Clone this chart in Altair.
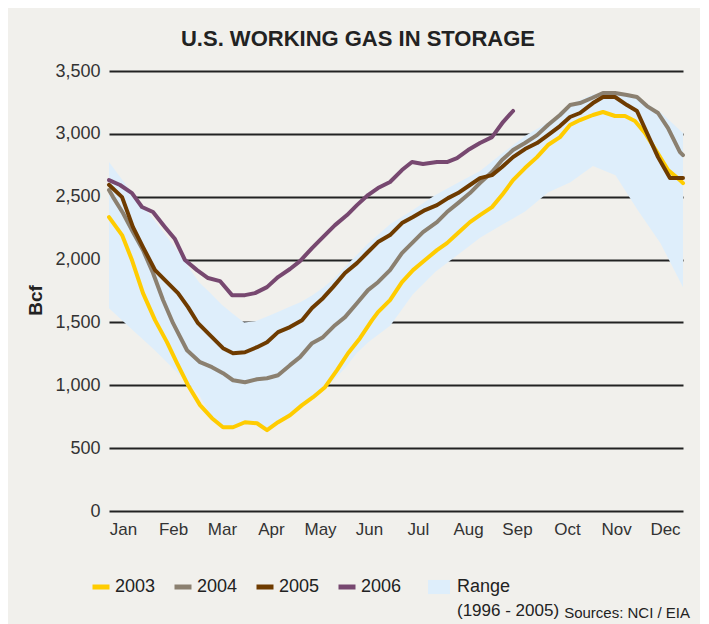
import altair as alt
import pandas as pd

FONT = "Liberation Sans, Arial, sans-serif"

years = ["2003", "2004", "2005", "2006"]
colors = ["#ffcc00", "#8b8070", "#6e3b00", "#774870"]

w2003 = [1.0, 2.16, 3.04, 4.02, 5.09, 6.15, 7.04, 8.02, 9.09, 10.15, 11.13, 12.02, 13.08, 14.15,
         15.04, 16.02, 17.08, 18.15, 19.13, 20.19, 21.26, 22.24, 23.30, 24.37, 24.90, 25.97, 27.03,
         28.01, 29.08, 30.14, 31.03, 32.01, 33.07, 33.96, 35.03, 35.92, 36.90, 37.96, 39.03, 40.00,
         41.07, 41.96, 42.85, 44.00, 44.89, 45.96, 46.85, 47.73, 48.62, 49.69, 50.67, 51.73, 52.0]
v2003 = [2338, 2195, 1996, 1733, 1518, 1343, 1176, 1001, 842, 738, 666, 666, 706, 698,
         643, 706, 762, 842, 905, 985, 1120, 1255, 1375, 1518, 1582, 1677, 1820,
         1916, 1996, 2075, 2131, 2211, 2298, 2354, 2417, 2513, 2632, 2728, 2815, 2911,
         2974, 3070, 3110, 3150, 3174, 3142, 3142, 3102, 3007, 2855, 2712, 2632, 2608]

w2004 = [1.0, 1.36, 2.24, 3.13, 4.02, 4.91, 5.80, 6.69, 7.93, 9.09, 10.15, 11.13, 12.02, 13.08,
         14.15, 15.04, 16.02, 17.08, 17.97, 19.04, 20.01, 21.08, 21.97, 23.03, 24.01, 24.90, 25.97,
         27.03, 28.01, 28.90, 30.14, 31.03, 32.01, 33.07, 33.96, 35.03, 35.92, 36.90, 37.96, 39.03,
         40.00, 41.07, 41.96, 42.85, 43.91, 44.89, 45.96, 47.02, 47.91, 48.80, 49.78, 50.67, 51.73, 52.0]
v2004 = [2553, 2497, 2370, 2219, 2076, 1893, 1678, 1494, 1279, 1184, 1144, 1096, 1040, 1024,
         1048, 1056, 1080, 1160, 1224, 1335, 1383, 1478, 1542, 1653, 1757, 1820, 1916,
         2051, 2139, 2219, 2298, 2378, 2449, 2529, 2609, 2696, 2792, 2871, 2927, 2990,
         3070, 3150, 3229, 3245, 3285, 3325, 3325, 3309, 3293, 3221, 3166, 3046, 2855, 2831]

w2005 = [1.0, 2.16, 3.13, 4.02, 5.09, 6.15, 7.13, 8.02, 8.91, 9.97, 11.13, 12.02, 13.08, 14.15,
         15.04, 16.02, 17.08, 18.15, 19.04, 20.01, 20.90, 21.97, 23.03, 23.92, 24.90, 25.97, 27.03,
         28.01, 29.08, 30.14, 31.12, 32.01, 33.07, 33.96, 35.03, 35.92, 36.90, 37.96, 39.03, 40.00,
         41.07, 41.96, 42.85, 44.00, 44.89, 45.96, 47.02, 47.91, 48.80, 49.78, 50.84, 52.0]
v2005 = [2595, 2497, 2258, 2099, 1916, 1820, 1733, 1622, 1494, 1399, 1295, 1255, 1263, 1303,
         1343, 1423, 1463, 1518, 1614, 1693, 1781, 1893, 1972, 2052, 2139, 2195, 2290,
         2338, 2394, 2433, 2489, 2529, 2593, 2648, 2672, 2736, 2815, 2879, 2927, 2990,
         3062, 3134, 3166, 3245, 3293, 3293, 3229, 3182, 3007, 2815, 2648, 2648]

w2006 = [1.0, 1.98, 3.04, 3.93, 4.91, 5.98, 6.86, 7.75, 8.82, 9.80, 10.86, 11.93, 13.08, 13.97,
         15.04, 16.02, 17.08, 17.97, 19.04, 20.01, 21.08, 22.15, 23.03, 24.01, 24.90, 25.97, 27.03,
         27.92, 28.90, 30.14, 31.03, 31.92, 32.90, 33.96, 35.03, 36.01, 36.90]
v2006 = [2632, 2593, 2529, 2418, 2378, 2258, 2163, 1996, 1916, 1853, 1829, 1717, 1717, 1733,
         1781, 1861, 1925, 1988, 2091, 2179, 2274, 2354, 2433, 2513, 2569, 2617, 2712,
         2776, 2760, 2776, 2776, 2807, 2871, 2927, 2974, 3094, 3182]

band_w = [1, 3, 5, 7, 9, 10, 11, 12, 13, 14, 15, 16, 17, 18, 19, 20, 21, 22, 23, 24,
          26, 28, 30, 32, 34, 36, 38, 40, 42, 44, 46, 48, 50, 52]
band_hi = [2776, 2536, 2316, 2080, 1820, 1735, 1643, 1570, 1500, 1510, 1545, 1582, 1622, 1660,
           1712, 1773, 1850, 1945, 2035, 2125, 2283, 2395, 2513, 2612, 2707, 2850, 2984, 3090,
           3236, 3313, 3332, 3288, 3172, 3007]
band_lo = [1612, 1447, 1284, 1108, 925, 765, 660, 650, 687, 682, 630, 689, 740, 814,
           882, 966, 1046, 1140, 1255, 1340, 1475, 1725, 1903, 2038, 2175, 2280, 2385, 2533,
           2615, 2745, 2670, 2390, 2130, 1780]

month_names = ["Jan", "Feb", "Mar", "Apr", "May", "Jun", "Jul", "Aug", "Sep", "Oct", "Nov", "Dec"]
month_pos = [2.24, 6.69, 11.04, 15.39, 19.75, 24.10, 28.45, 32.90, 37.25, 41.69, 46.05, 50.40]
y_ticks = [0, 500, 1000, 1500, 2000, 2500, 3000, 3500]

series = {"2003": (w2003, v2003), "2004": (w2004, v2004),
          "2005": (w2005, v2005), "2006": (w2006, v2006)}
rows = []
for i, yr in enumerate(years):
    ws, vs = series[yr]
    for w, v in zip(ws, vs):
        rows.append({"week": w, "bcf": v, "year": yr, "order": i})
lines_df = pd.DataFrame(rows)

band_df = pd.DataFrame({"week": band_w, "lo": band_lo, "hi": band_hi, "label": "Range"})
notes_df = pd.DataFrame({"t": ["(1996 - 2005)", "Sources: NCI / EIA"]})

names_js = "[" + ",".join(f"'{m}'" for m in month_names) + "]"
pos_js = "[" + ",".join(str(p) for p in month_pos) + "]"

x_enc = alt.X("week:Q", scale=alt.Scale(domain=[1, 52], nice=False, zero=False),
              axis=alt.Axis(values=month_pos, title=None, grid=False,
                            labelExpr=f"{names_js}[indexof({pos_js}, datum.value)]",
                            labelPadding=10, labelFontSize=17, labelColor="#333"))

band = alt.Chart(band_df).mark_area(opacity=1).encode(
    x=x_enc,
    y=alt.Y("lo:Q", scale=alt.Scale(domain=[0, 3500], nice=False),
            axis=alt.Axis(values=y_ticks, format=",.0f", title="Bcf", grid=True,
                          gridColor="#222", gridWidth=2, labelPadding=9,
                          labelFontSize=18, labelColor="#333",
                          titleFontSize=19, titleFontWeight="bold", titleColor="#222",
                          titleAngle=-90, titleX=-64, titleY=229,
                          titleAlign="center", titleBaseline="bottom")),
    y2="hi:Q",
    fill=alt.Fill("label:N", scale=alt.Scale(domain=["Range"], range=["#deeefb"]),
                  legend=alt.Legend(title=None, orient="none", legendX=319, legendY=505,
                                    symbolType="M-1,-0.64H1V0.64H-1Z", symbolSize=484,
                                    symbolFillColor="#deeefb", symbolStrokeWidth=0,
                                    symbolOpacity=1,
                                    labelFontSize=18, labelColor="#222", labelOffset=7,
                                    labelFont=FONT)),
)

lines = alt.Chart(lines_df).mark_line(strokeWidth=4, strokeJoin="round", strokeCap="round").encode(
    x="week:Q",
    y="bcf:Q",
    stroke=alt.Stroke("year:N", scale=alt.Scale(domain=years, range=colors),
                      legend=alt.Legend(title=None, orient="none", legendX=-19, legendY=505,
                                        direction="horizontal", symbolType="stroke",
                                        symbolSize=289, symbolStrokeWidth=5,
                                        labelFontSize=18, labelColor="#222", labelOffset=3,
                                        columnPadding=8, labelFont=FONT)),
    detail="year:N",
    order="order:Q",
)

notes = alt.Chart(notes_df).transform_filter(
    alt.datum.t == "(1996 - 2005)").mark_text(
    align="left", baseline="alphabetic", fontSize=17, color="#222", font=FONT).encode(
    x=alt.value(348), y=alt.value(545), text="t:N")

src = alt.Chart(notes_df).transform_filter(
    alt.datum.t == "Sources: NCI / EIA").mark_text(
    align="right", baseline="alphabetic", fontSize=15, color="#222", font=FONT).encode(
    x=alt.value(581), y=alt.value(547), text="t:N")

chart = alt.layer(band, lines, notes, src).properties(
    width=574, height=440,
    autosize=alt.AutoSizeParams(type="none"),
    padding={"left": 101, "top": 63, "right": 17, "bottom": 113},
    background="#f1f0ec",
    title=alt.TitleParams("U.S. WORKING GAS IN STORAGE", fontSize=22, fontWeight="bold",
                          color="#222", anchor="middle", frame="bounds", offset=11, font=FONT),
).configure_view(strokeWidth=0).configure_axis(
    domain=False, ticks=False, labelFont=FONT, titleFont=FONT
).configure_legend(labelFont=FONT)

chart.save("out.html", embed_options={"renderer": "svg", "actions": False})
